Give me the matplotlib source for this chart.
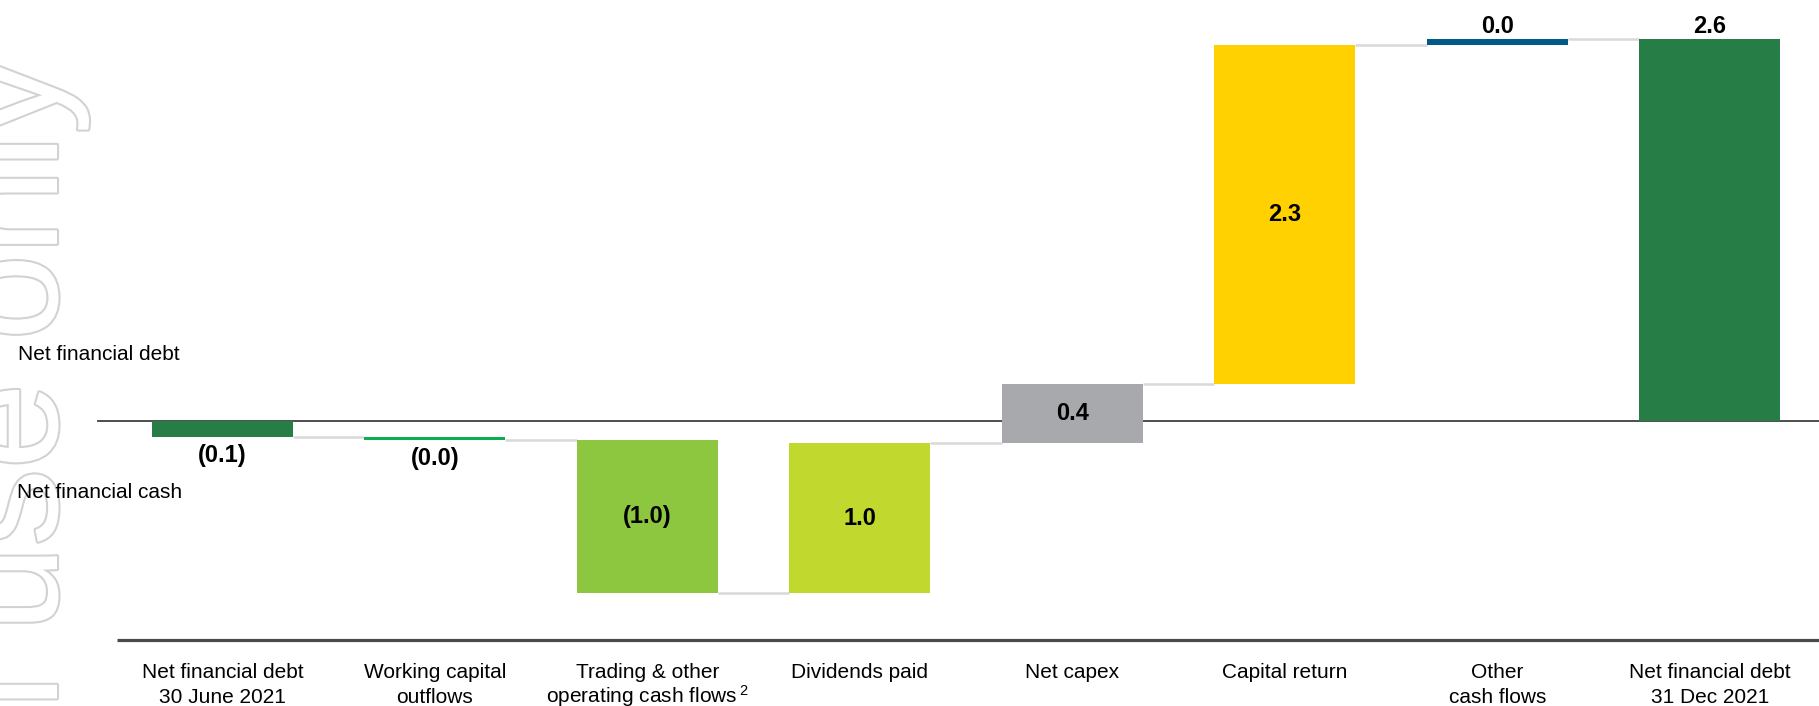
import matplotlib
matplotlib.use("Agg")
import matplotlib.pyplot as plt
import matplotlib.transforms as mtransforms
import matplotlib.patheffects as pe

plt.rcParams['font.family'] = ['Liberation Sans', 'DejaVu Sans']
plt.rcParams['mathtext.fontset'] = 'custom'
plt.rcParams['mathtext.rm'] = 'Liberation Sans'
plt.rcParams['mathtext.it'] = 'Liberation Sans:italic'
plt.rcParams['mathtext.bf'] = 'Liberation Sans:bold'

# ---- data (US$ bn) ----
category_lines = [
    ["Net financial debt", "30 June 2021"],
    ["Working capital", "outflows"],
    ["Trading & other", r"operating cash flows$\,^{2}$"],
    ["Dividends paid"],
    ["Net capex"],
    ["Capital return"],
    ["Other", "cash flows"],
    ["Net financial debt", "31 Dec 2021"],
]
opening_balance = -0.11
movements = [-0.02, -1.03, 1.01, 0.40, 2.28, 0.045]
bar_colors = ["#267e46", "#0aae4e", "#8dc63f", "#c1d82f",
              "#a7a9ac", "#ffd100", "#015b86", "#267e46"]

# ---- waterfall geometry ----
values = [opening_balance] + movements
levels = [opening_balance]
for m in movements:
    levels.append(levels[-1] + m)
closing_balance = levels[-1]
values.append(closing_balance)
levels.append(closing_balance)

bottoms = [0.0]
heights = [opening_balance]
for i, m in enumerate(movements):
    bottoms.append(levels[i])
    heights.append(m)
bottoms.append(0.0)
heights.append(closing_balance)
is_total = [True] + [False] * len(movements) + [True]

fig = plt.figure(figsize=(18.19, 7.06), dpi=100)
ax = fig.add_axes([0, 0, 1, 1])
ax.set_axis_off()
W, H = 1819.0, 706.0
step_px, first_px = 212.5, 222.4
unit_px, zero_from_top = 148.5, 421.0
ax.set_xlim(-first_px / step_px, (W - first_px) / step_px)
ax.set_ylim(-(H - zero_from_top) / unit_px, zero_from_top / unit_px)

x = list(range(len(values)))
width = 0.664

# faint vertical watermark
ax.text(57 / W, 1 - 58 / H, "For personal use only", transform=ax.transAxes,
        rotation=90, rotation_mode='anchor', ha='right', va='baseline',
        fontsize=111, color='white', zorder=0.5,
        path_effects=[pe.withStroke(linewidth=3, foreground='#d2d2d2')])

# zero line and bottom rule
ax.axhline(0, xmin=97.7 / W, xmax=1, color='#404040', lw=1.3, zorder=1)
ax.plot([116.7 / W, 1], [66 / H, 66 / H], transform=ax.transAxes,
        color='#4a4a4a', lw=2.3, solid_capstyle='butt', zorder=1)

# connectors
for i in range(len(values) - 1):
    ax.plot([x[i] + width / 2, x[i + 1] - width / 2], [levels[i], levels[i]],
            color='#d9d9d9', lw=1.8, solid_capstyle='butt', zorder=1.5)

ax.bar(x, heights, bottom=bottoms, width=width, color=bar_colors,
       linewidth=0, zorder=2)


def fmt(v):
    return f"({abs(v):.1f})" if v < 0 else f"{v:.1f}"


for i, (b, h, v) in enumerate(zip(bottoms, heights, values)):
    outside = is_total[i] or abs(h) < 0.2
    if not outside:
        ax.text(x[i], b + h / 2, fmt(v), ha='center', va='center',
                fontsize=17, fontweight='bold', color='black', zorder=3)
    elif h < 0:
        off = mtransforms.offset_copy(ax.transData, fig=fig, x=0, y=-17.6, units='points')
        ax.text(x[i], b + h, fmt(v), ha='center', va='baseline', transform=off,
                fontsize=17, fontweight='bold', color='black', zorder=3)
    else:
        off = mtransforms.offset_copy(ax.transData, fig=fig, x=0, y=3.9, units='points')
        ax.text(x[i], b + h, fmt(v), ha='center', va='baseline', transform=off,
                fontsize=17, fontweight='bold', color='black', zorder=3)

# category labels under the rule
blend = mtransforms.blended_transform_factory(ax.transData, ax.transAxes)
line_baselines = [28 / H, 3 / H]
for i, lines in enumerate(category_lines):
    for j, line in enumerate(lines):
        ax.text(x[i], line_baselines[j], line, transform=blend, ha='center',
                va='baseline', fontsize=15, color='black', zorder=3)

# side annotations for the sign convention
ax.text(18 / W, (H - 360) / H, "Net financial debt", transform=ax.transAxes,
        ha='left', va='baseline', fontsize=15, color='black', zorder=3)
ax.text(16.7 / W, (H - 498) / H, "Net financial cash", transform=ax.transAxes,
        ha='left', va='baseline', fontsize=15, color='black', zorder=3)

fig.savefig("out.png", dpi=100)
